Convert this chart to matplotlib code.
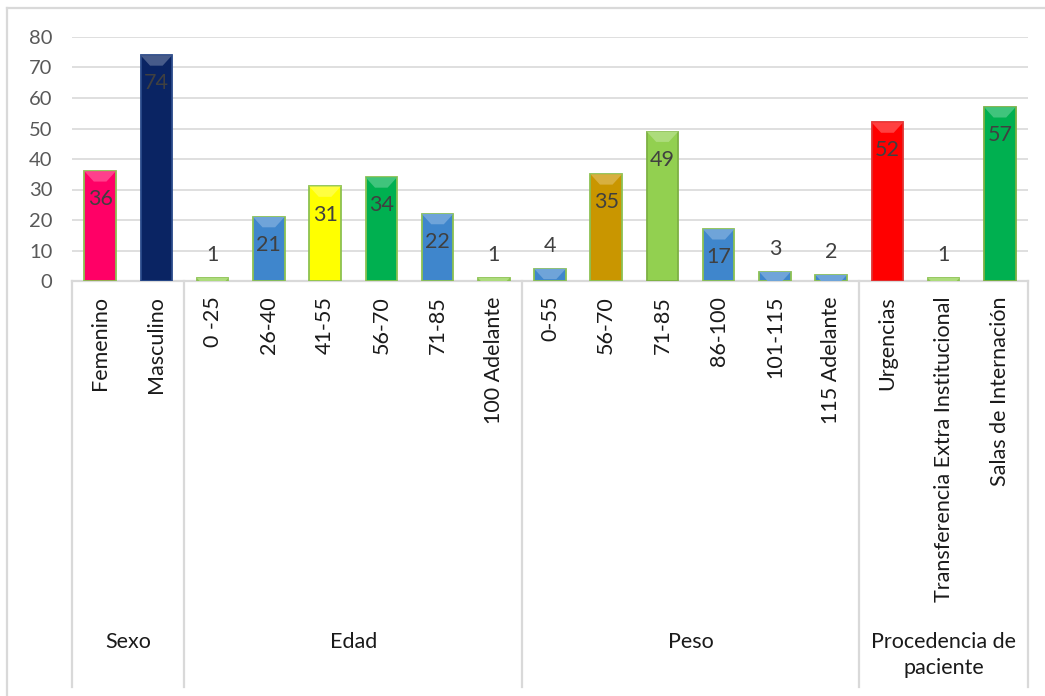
import matplotlib
matplotlib.use("Agg")
import numpy as np
from matplotlib import pyplot as plt
from matplotlib.colors import to_rgb
from matplotlib.lines import Line2D
from matplotlib.patches import Polygon
from matplotlib.transforms import blended_transform_factory

plt.rcParams["font.family"] = ["Lato", "DejaVu Sans"]

# categories, grouped
groups = ["Sexo", "Edad", "Peso", "Procedencia de\npaciente"]
group_sizes = [2, 6, 6, 3]
categories = [
    "Femenino", "Masculino",
    "0 -25", "26-40", "41-55", "56-70", "71-85", "100 Adelante",
    "0-55", "56-70", "71-85", "86-100", "101-115", "115 Adelante",
    "Urgencias", "Transferencia Extra Institucional", "Salas de Internación",
]
values = [36, 74, 1, 21, 31, 34, 22, 1, 4, 35, 49, 17, 3, 2, 52, 1, 57]
bar_colors = [
    "#FF0066", "#0A2463",
    "#92D050", "#3F86CC", "#FFFF00", "#00B050", "#3F86CC", "#92D050",
    "#3F86CC", "#C99600", "#92D050", "#3F86CC", "#3F86CC", "#3F86CC",
    "#FF0000", "#92D050", "#00B050",
]
edge_colors = [
    "#8CC152", "#2A4A8A",
    "#8CC152", "#8CC152", "#8CC152", "#8CC152", "#8CC152", "#8CC152",
    "#8CC152", "#8CC152", "#7DB043", "#8CC152", "#8CC152", "#8CC152",
    "#E03030", "#8CC152", "#7DB043",
]

GRID = "#D9D9D9"
BAR_W = 0.56


def lighten(c, amt):
    r, g, b = to_rgb(c)
    return (r + (1 - r) * amt, g + (1 - g) * amt, b + (1 - b) * amt)


fig = plt.figure(figsize=(10.45, 6.96), dpi=100)
ax = fig.add_axes([72 / 1045, 1 - 281 / 696, (1028 - 72) / 1045, (281 - 37) / 696])

x = np.arange(len(categories))
ax.bar(x, values, width=BAR_W, color=bar_colors, edgecolor=edge_colors,
       linewidth=1.3, zorder=3)

# lighter bevel on top of every bar
for xi, v, c in zip(x, values, bar_colors):
    h = min(3.4, v)
    x0, x1 = xi - BAR_W / 2, xi + BAR_W / 2
    inset = BAR_W * 0.3 * h / 3.4
    ax.add_patch(Polygon([(x0, v), (x1, v), (x1 - inset, v - h), (x0 + inset, v - h)],
                         closed=True, facecolor=lighten(c, 0.25), edgecolor="none",
                         zorder=4))

# value labels: inside the top of the bar, above it when the bar is short
for xi, v in zip(x, values):
    if v >= 10:
        ax.annotate(str(v), (xi, v), xytext=(0, -13), textcoords="offset points",
                    ha="center", va="top", fontsize=15.5, color="#404040", zorder=5)
    else:
        ax.annotate(str(v), (xi, v), xytext=(0, 9), textcoords="offset points",
                    ha="center", va="bottom", fontsize=15.5, color="#404040", zorder=5)

ax.set_xlim(-0.5, len(categories) - 0.5)
ax.set_ylim(0, 80)
ax.set_yticks(range(0, 81, 10))
ax.yaxis.grid(True, color=GRID, linewidth=1.2, zorder=0)
ax.set_axisbelow(True)
ax.tick_params(axis="y", length=0, labelsize=14.5, labelcolor="#595959", pad=14)
ax.set_xticks([])
for side in ["top", "right", "left"]:
    ax.spines[side].set_visible(False)
ax.spines["bottom"].set_color(GRID)
ax.spines["bottom"].set_linewidth(1.6)

# two-level category axis below the plot
trans = blended_transform_factory(ax.transData, fig.transFigure)
y_axis = 1 - 281 / 696
y_end = 1 - 687 / 696
for xi, name in zip(x, categories):
    ax.text(xi, 1 - 296 / 696, name, transform=trans, rotation=90, ha="center",
            va="top", fontsize=15.5, color="#1A1A1A")

edges = np.concatenate([[0], np.cumsum(group_sizes)]) - 0.5
for e in edges:
    fig.add_artist(Line2D([e, e], [y_axis, y_end], transform=trans, color=GRID,
                          linewidth=1.6))
for g, a, b in zip(groups, edges[:-1], edges[1:]):
    ax.text((a + b) / 2, 1 - 632 / 696, g, transform=trans, ha="center", va="top",
            fontsize=15.5, color="#1A1A1A", linespacing=1.35, multialignment="center")

# chart frame
fig.add_artist(Line2D([7 / 1045, 7 / 1045], [0, 1 - 8 / 696], transform=fig.transFigure,
                      color=GRID, linewidth=1.6))
fig.add_artist(Line2D([7 / 1045, 1], [1 - 8 / 696, 1 - 8 / 696], transform=fig.transFigure,
                      color=GRID, linewidth=1.6))

fig.savefig("out.png", dpi=100)
